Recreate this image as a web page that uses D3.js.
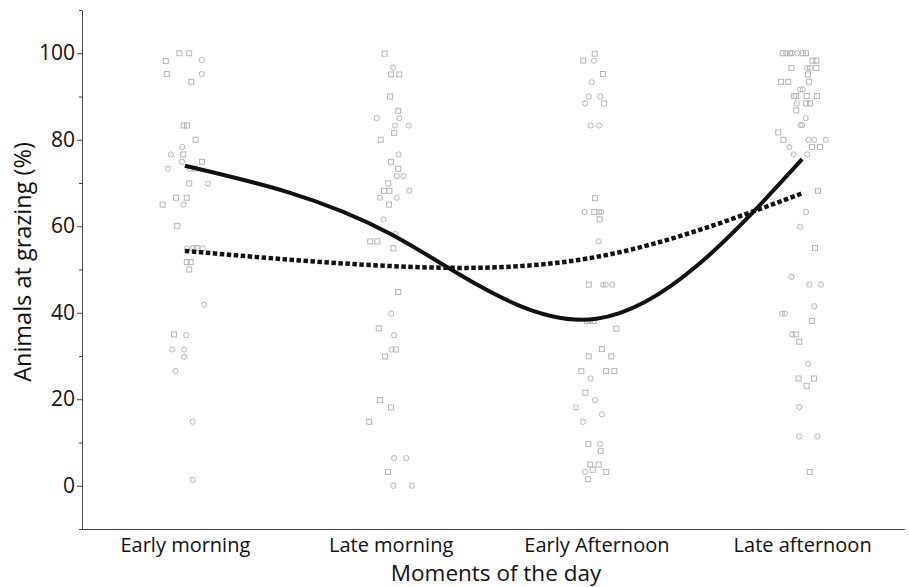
<!DOCTYPE html>
<html>
<head>
<meta charset="utf-8">
<script src="https://cdn.jsdelivr.net/npm/d3@7"></script>
<style>
  body { margin: 0; background: #fff; }
  svg { display: block; }
  text { font-family: "Open Sans", "Noto Sans", sans-serif; fill: #111; }
</style>
</head>
<body>
<svg width="909" height="587"></svg>
<script>
// moments of the day
var categories = ['Early morning', 'Late morning', 'Early Afternoon', 'Late afternoon'];
var yTicks = [0, 20, 40, 60, 80, 100];
var yMinorTicks = [-10, 10, 30, 50, 70, 90, 110];

// fitted curves, value at each category
var solidLine = [74, 58.2, 38.6, 75.5];
var dashedLine = [54.3, 50.8, 52.9, 67.6];

// observations: [jitter (category units), % grazing, shape s=square c=circle]
var earlyMorning = [
  [-0.027, 100, 's'], [0.021, 100, 's'], [-0.093, 98.2, 's'], [0.082, 98.4, 'c'],
  [-0.088, 95.2, 's'], [0.082, 95.2, 'c'], [0.031, 93.4, 's'], [-0.006, 83.3, 's'],
  [0.010, 83.3, 's'], [0.052, 80, 's'], [-0.013, 78.3, 'c'], [-0.068, 76.6, 'c'],
  [-0.008, 76.6, 's'], [-0.014, 74.9, 'c'], [0.083, 74.9, 's'], [-0.082, 73.3, 'c'],
  [0.025, 73.3, 'c'], [0.049, 73.3, 's'], [0.021, 69.9, 's'], [0.112, 69.9, 'c'],
  [-0.043, 66.6, 's'], [0.009, 66.6, 's'], [-0.108, 65, 's'], [-0.006, 65, 'c'],
  [-0.037, 60.1, 's'], [0.009, 54.9, 'c'], [0.041, 54.9, 's'], [0.057, 54.9, 's'],
  [0.087, 54.9, 'c'], [0.009, 51.7, 's'], [0.028, 51.7, 's'], [0.021, 50, 's'],
  [0.094, 41.9, 'c'], [-0.053, 35, 's'], [0.007, 34.8, 'c'], [-0.061, 31.5, 'c'],
  [-0.004, 31.5, 'c'], [-0.004, 29.8, 'c'], [-0.045, 26.5, 'c'], [0.038, 14.8, 'c'],
  [0.039, 1.4, 'c']
];
var lateMorning = [
  [-0.029, 99.9, 's'], [0.012, 96.7, 'c'], [0.002, 95.1, 's'], [0.042, 95.1, 's'],
  [-0.003, 90, 's'], [0.037, 86.7, 's'], [-0.068, 85, 'c'], [0.042, 85, 'c'],
  [0.021, 83.3, 'c'], [0.088, 83.3, 'c'], [0.017, 81.6, 's'], [-0.048, 80, 's'],
  [0.039, 76.6, 'c'], [0.002, 74.9, 's'], [0.037, 73.3, 's'], [0.030, 71.6, 'c'],
  [0.062, 71.6, 'c'], [-0.011, 69.9, 's'], [-0.032, 68.2, 's'], [-0.006, 68.2, 's'],
  [0.091, 68.2, 'c'], [-0.052, 66.6, 'c'], [0.030, 66.6, 'c'], [-0.008, 65, 's'],
  [-0.035, 61.6, 'c'], [0.023, 58.2, 'c'], [-0.099, 56.5, 's'], [-0.065, 56.5, 's'],
  [0.013, 54.9, 's'], [0.037, 44.8, 's'], [0.003, 39.8, 'c'], [-0.058, 36.4, 's'],
  [0.017, 34.8, 'c'], [0.005, 31.5, 'c'], [0.025, 31.5, 's'], [-0.027, 29.9, 's'],
  [-0.053, 19.8, 's'], [0.002, 18.1, 's'], [-0.104, 14.8, 's'], [0.017, 6.4, 'c'],
  [0.076, 6.4, 'c'], [-0.013, 3.2, 's'], [0.013, 0, 'c'], [0.103, 0, 'c']
];
var earlyAfternoon = [
  [-0.008, 99.9, 's'], [-0.064, 98.3, 's'], [-0.012, 98.3, 'c'], [0.032, 95.2, 's'],
  [-0.023, 93.3, 'c'], [-0.037, 90, 'c'], [0.019, 90, 'c'], [-0.055, 88.4, 'c'],
  [0.038, 88.4, 's'], [-0.028, 83.3, 'c'], [0.013, 83.3, 'c'], [-0.007, 66.5, 's'],
  [-0.057, 63.3, 'c'], [-0.010, 63.3, 's'], [0.014, 63.3, 'c'], [0.024, 63.3, 'c'],
  [0.016, 61.6, 's'], [0.011, 56.5, 'c'], [-0.037, 46.5, 's'], [0.032, 46.5, 'c'],
  [0.045, 46.5, 'c'], [0.077, 46.5, 'c'], [-0.046, 38.1, 's'], [-0.031, 38.1, 's'],
  [-0.015, 38.1, 's'], [0.097, 36.3, 's'], [0.027, 31.6, 's'], [-0.037, 29.9, 's'],
  [0.072, 29.9, 's'], [-0.073, 26.5, 's'], [0.047, 26.5, 's'], [0.087, 26.5, 's'],
  [-0.028, 24.8, 'c'], [-0.054, 21.5, 's'], [-0.007, 19.8, 'c'], [-0.099, 18.1, 'c'],
  [0.027, 16.5, 'c'], [-0.065, 14.8, 'c'], [-0.039, 9.7, 's'], [0.017, 9.7, 'c'],
  [0.021, 8, 's'], [-0.030, 4.9, 's'], [0.011, 4.9, 's'], [-0.055, 3.2, 'c'],
  [-0.018, 3.7, 's'], [0.048, 3.2, 's'], [-0.042, 1.5, 's']
];
var lateAfternoon = [
  [-0.094, 100, 's'], [-0.078, 100, 'c'], [-0.059, 100, 's'], [-0.049, 100, 'c'],
  [-0.023, 100, 'c'], [0.003, 100, 's'], [0.019, 100, 's'], [0.050, 98.3, 's'],
  [0.069, 98.3, 's'], [-0.052, 96.6, 's'], [0.025, 96.6, 'c'], [0.038, 96.6, 'c'],
  [0.069, 96.6, 's'], [0.029, 95.1, 's'], [-0.103, 93.4, 's'], [-0.067, 93.4, 's'],
  [0.034, 93.4, 's'], [-0.010, 91.6, 'c'], [0.003, 91.6, 'c'], [-0.039, 90.1, 's'],
  [-0.030, 90.1, 's'], [0.022, 90.1, 's'], [0.072, 90.1, 's'], [-0.026, 88.4, 'c'],
  [0.020, 88.4, 's'], [0.038, 88.4, 's'], [-0.028, 86.8, 's'], [0.017, 85, 'c'],
  [0.001, 83.4, 'c'], [-0.008, 83.4, 'c'], [-0.116, 81.7, 's'], [-0.091, 80, 's'],
  [0.032, 80, 'c'], [0.058, 80, 'c'], [0.115, 80, 'c'], [-0.062, 78.3, 'c'],
  [0.048, 78.3, 's'], [0.087, 78.3, 's'], [-0.041, 76.6, 'c'], [0.025, 76.6, 'c'],
  [0.077, 68.2, 's'], [0.019, 63.3, 'c'], [-0.010, 59.9, 'c'], [0.063, 55, 's'],
  [-0.052, 48.3, 'c'], [0.035, 46.5, 'c'], [0.092, 46.5, 'c'], [0.059, 41.5, 'c'],
  [-0.098, 39.8, 'c'], [-0.083, 39.8, 'c'], [0.047, 38.1, 's'], [-0.049, 35, 'c'],
  [-0.031, 35, 's'], [-0.014, 33.3, 's'], [0.030, 28.2, 'c'], [-0.017, 24.8, 's'],
  [0.058, 24.8, 's'], [0.022, 23.1, 's'], [-0.014, 18.2, 'c'], [-0.015, 11.4, 'c'],
  [0.074, 11.4, 'c'], [0.037, 3.2, 's']
];
var groups = [earlyMorning, lateMorning, earlyAfternoon, lateAfternoon];

var svg = d3.select('svg'),
  plotL = 82, plotR = 905, plotT = 10, plotB = 529;

var x = d3.scalePoint().domain(categories).range([plotL, plotR]).padding(0.5);
var xc = d3.scaleLinear().domain([-0.5, categories.length - 0.5]).range([plotL, plotR]); // continuous, for jitter and curves
var y = d3.scaleLinear().domain([-10, 110]).range([plotB, plotT]);

// points
var pts = [];
groups.forEach(function (g, gi) {
  g.forEach(function (d) { pts.push({ x: gi + d[0], v: d[1], shape: d[2] }); });
});

var markColor = '#b4b4b4';
svg.append('g').selectAll('rect').data(pts.filter(function (d) { return d.shape == 's'; }))
  .enter().append('rect')
  .attr('x', function (d) { return xc(d.x) - 2.5; })
  .attr('y', function (d) { return y(d.v) - 2.5; })
  .attr('width', 5).attr('height', 5)
  .attr('fill', 'none').attr('stroke', markColor).attr('stroke-width', 1);

svg.append('g').selectAll('circle').data(pts.filter(function (d) { return d.shape == 'c'; }))
  .enter().append('circle')
  .attr('cx', function (d) { return xc(d.x); })
  .attr('cy', function (d) { return y(d.v); })
  .attr('r', 2.6)
  .attr('fill', 'none').attr('stroke', markColor).attr('stroke-width', 1);

// curves
var line = d3.line()
  .x(function (d, i) { return xc(i); })
  .y(function (d) { return y(d); })
  .curve(d3.curveNatural);

svg.append('path').datum(dashedLine).attr('d', line)
  .attr('fill', 'none').attr('stroke', '#111').attr('stroke-width', 4.5)
  .attr('stroke-dasharray', '4.5,2.5');

svg.append('path').datum(solidLine).attr('d', line)
  .attr('fill', 'none').attr('stroke', '#111').attr('stroke-width', 4);

// y axis
var yMinor = svg.append('g').attr('transform', 'translate(' + plotL + ',0)')
  .call(d3.axisLeft(y).tickValues(yMinorTicks).tickSize(3).tickFormat(''));
yMinor.select('.domain').remove();
yMinor.selectAll('line').attr('stroke', '#444');

var yAxis = svg.append('g').attr('transform', 'translate(' + plotL + ',0)')
  .call(d3.axisLeft(y).tickValues(yTicks).tickSize(5).tickSizeOuter(0).tickPadding(2));
yAxis.select('.domain').attr('stroke', '#444');
yAxis.selectAll('line').attr('stroke', '#444');
yAxis.selectAll('text').style('font-size', '21px').attr('fill', '#111');

// x axis
var xAxis = svg.append('g').attr('transform', 'translate(0,' + plotB + ')')
  .call(d3.axisBottom(x).tickSize(0).tickSizeOuter(0).tickPadding(9));
xAxis.select('.domain').attr('stroke', '#444').attr('d', 'M' + plotL + ',0.5H' + plotR);
xAxis.selectAll('text').style('font-size', '20px').attr('fill', '#111');

// titles
svg.append('text')
  .attr('transform', 'translate(31,262) rotate(-90)')
  .attr('text-anchor', 'middle')
  .style('font-size', '23.5px')
  .text('Animals at grazing (%)');

svg.append('text')
  .attr('x', 496)
  .attr('y', 581)
  .attr('text-anchor', 'middle')
  .style('font-size', '22.5px')
  .text('Moments of the day');
</script>
</body>
</html>
